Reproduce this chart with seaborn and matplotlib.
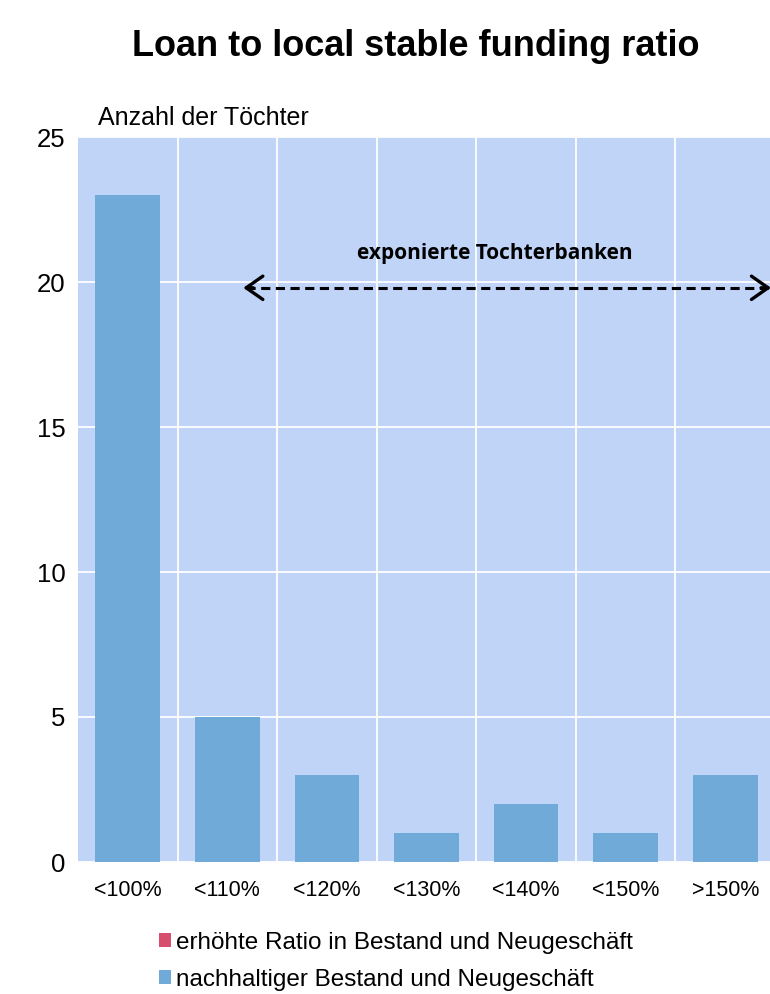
import matplotlib
matplotlib.use("Agg")
import matplotlib.pyplot as plt
from matplotlib.patches import Patch
import seaborn as sns
import pandas as pd

categories = ["<100%", "<110%", "<120%", "<130%", "<140%", "<150%", ">150%"]
nachhaltig = [23, 5, 3, 1, 2, 1, 3]
erhoeht = [0, 0, 0, 0, 0, 0, 0]
series_names = ["erhöhte Ratio in Bestand und Neugeschäft",
                "nachhaltiger Bestand und Neugeschäft"]
title = "Loan to local stable funding ratio"
ylabel_text = "Anzahl der Töchter"
annotation = "exponierte Tochterbanken"
y_ticks = [0, 5, 10, 15, 20, 25]
arrow_span = (1.16, 6.46)
arrow_level = 19.8

BG = "#c0d4f8"
BLUE = "#70aad9"
RED = "#d6506e"

sns.set_style("white")
plt.rcParams["font.family"] = ["Liberation Sans", "DejaVu Sans"]
plt.rcParams["text.color"] = "black"
plt.rcParams["xtick.color"] = "black"
plt.rcParams["ytick.color"] = "black"

fig = plt.figure(figsize=(7.7, 9.94), dpi=100)
ax = fig.add_axes([78 / 770, 1 - 862 / 994, 697 / 770, (862 - 137) / 994])
ax.set_facecolor(BG)

df = pd.DataFrame({"cat": categories, "nach": nachhaltig, "erh": erhoeht})
sns.barplot(data=df, x="cat", y="nach", color=BLUE, saturation=1, width=0.65,
            ax=ax, zorder=3, linewidth=0, edgecolor="none")
sns.barplot(data=df, x="cat", y="erh", color=RED, saturation=1, width=0.65,
            ax=ax, zorder=3, linewidth=0, edgecolor="none")

ax.set_ylim(0, 25)
ax.set_xlim(-0.5, 6.5)
ax.set_yticks(y_ticks)
ax.set_xlabel("")
ax.set_ylabel("")
for s in ax.spines.values():
    s.set_visible(False)

ax.set_xticks([i + 0.5 for i in range(6)], minor=True)
ax.grid(False)
ax.yaxis.grid(True, color="white", linewidth=1.3, zorder=1)
ax.xaxis.grid(True, which="minor", color="white", linewidth=1.3, zorder=1)
ax.set_axisbelow(True)
ax.tick_params(axis="both", which="both", length=0)
ax.tick_params(axis="y", labelsize=18.5, pad=9)
ax.tick_params(axis="x", labelsize=15.5, pad=13)

fig.text(416 / 770, 1 - 46 / 994, title, ha="center", va="center",
         fontsize=26, fontweight="bold")
fig.text(98 / 770, 1 - 118 / 994, ylabel_text, ha="left", va="center",
         fontsize=18)

# dashed shaft
x0, x1 = arrow_span
ax.plot([x0 + 0.03, x1 - 0.03], [arrow_level, arrow_level], color="black",
        lw=2.2, linestyle=(0, (3, 1.8)), zorder=5, clip_on=False)
# solid chevron heads
head = dict(arrowstyle="->,head_length=0.6,head_width=0.42", color="black",
            lw=2.4, mutation_scale=20, shrinkA=0, shrinkB=0)
ax.annotate("", xy=(x0, arrow_level), xytext=(x0 + 0.1, arrow_level),
            arrowprops=head, annotation_clip=False, zorder=5)
ax.annotate("", xy=(x1, arrow_level), xytext=(x1 - 0.1, arrow_level),
            arrowprops=head, annotation_clip=False, zorder=5)
ax.text(3.69, 21.0, annotation, ha="center", va="center", fontsize=15,
        fontweight="bold", family=["Open Sans", "DejaVu Sans"], zorder=5)

handles = [Patch(facecolor=RED, edgecolor="none"),
           Patch(facecolor=BLUE, edgecolor="none")]
fig.legend(handles, series_names, loc="upper left",
           bbox_to_anchor=(159 / 770, 1 - 932 / 994), frameon=False,
           fontsize=17.5, handlelength=0.5, handleheight=0.5,
           handletextpad=0.2, labelspacing=0.6, borderaxespad=0,
           borderpad=0)

fig.savefig("out.png", dpi=100)
